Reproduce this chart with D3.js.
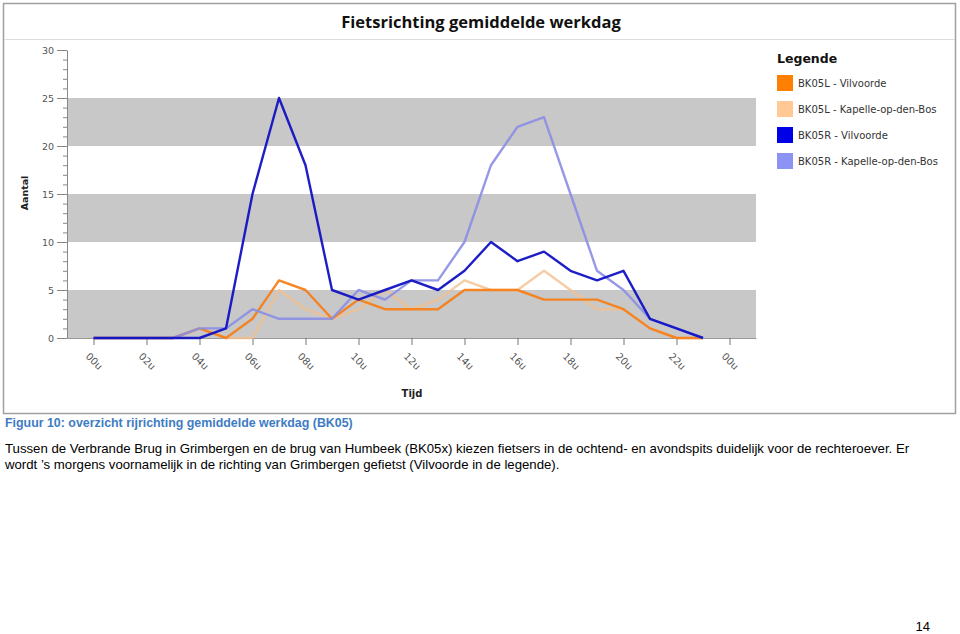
<!DOCTYPE html>
<html>
<head>
<meta charset="utf-8">
<script src="https://cdn.jsdelivr.net/npm/d3@7"></script>
<style>
  html, body { margin: 0; padding: 0; background: #fff; }
  svg { display: block; }
</style>
</head>
<body>
<svg id="chart" width="960" height="634"></svg>
<script>
// ---- data ----
const hours = d3.range(0, 24);
const xTickHours = [0, 2, 4, 6, 8, 10, 12, 14, 16, 18, 20, 22, 24];
const xTickLabels = ["00u", "02u", "04u", "06u", "08u", "10u", "12u", "14u", "16u", "18u", "20u", "22u", "00u"];
const yTicks = [0, 5, 10, 15, 20, 25, 30];
const bands = [[0, 5], [10, 15], [20, 25]];

const seriesNames = ["BK05L - Vilvoorde", "BK05L - Kapelle-op-den-Bos", "BK05R - Vilvoorde", "BK05R - Kapelle-op-den-Bos"];
const bk05lVilvoorde = [0,0,0,0,1,0,2,6,5,2,4,3,3,3,5,5,5,4,4,4,3,1,0,0];
const bk05lKapelle   = [0,0,0,0,1,0,0,5,3,2,3,5,3,4,6,5,5,7,5,3,3,1,0,0];
const bk05rVilvoorde = [0,0,0,0,0,1,15,25,18,5,4,5,6,5,7,10,8,9,7,6,7,2,1,0];
const bk05rKapelle   = [0,0,0,0,1,1,3,2,2,2,5,4,6,6,10,18,22,23,15,7,5,2,1,0];
const seriesValues = [bk05lVilvoorde, bk05lKapelle, bk05rVilvoorde, bk05rKapelle];
const seriesColors = ["#ff8000", "#ffc895", "#0000e6", "#8c93f5"];
const lineColors = ["#f5801a", "#f2c08e", "#1212c4", "#8a8ee4"];
const drawOrder = [1, 0, 3, 2];

const chartTitle = "Fietsrichting gemiddelde werkdag";
const legendTitle = "Legende";
const yTitle = "Aantal";
const xTitle = "Tijd";
const captionText = "Figuur 10: overzicht rijrichting gemiddelde werkdag (BK05)";
const paraLines = [
  "Tussen de Verbrande Brug in Grimbergen en de brug van Humbeek (BK05x) kiezen fietsers in de ochtend- en avondspits duidelijk voor de rechteroever. Er",
  "wordt \u2019s morgens voornamelijk in de richting van Grimbergen gefietst (Vilvoorde in de legende)."
];
const pageNumber = "14";

// ---- drawing ----
const svg = d3.select("#chart");
const axisFont = "DejaVu Sans, Verdana, sans-serif";

// frame
svg.append("rect").attr("x", 3.5).attr("y", 3.5).attr("width", 952).attr("height", 410)
  .attr("fill", "#fff").attr("stroke", "#a0a0a0").attr("stroke-width", 1.5);
svg.append("line").attr("x1", 4).attr("x2", 955).attr("y1", 39.5).attr("y2", 39.5)
  .attr("stroke", "#dcdcdc").attr("stroke-width", 1);

svg.append("text").attr("x", 481).attr("y", 28).attr("text-anchor", "middle")
  .attr("font-family", "Open Sans, sans-serif").attr("font-weight", "bold").attr("font-size", 16.5)
  .attr("fill", "#111").text(chartTitle);

const x = d3.scaleLinear().domain([-1, 25]).range([67, 756]);
const y = d3.scaleLinear().domain([0, 30]).range([338, 50]);

// bands
svg.append("g").selectAll("rect").data(bands).join("rect")
  .attr("x", x(-1)).attr("width", x(25) - x(-1))
  .attr("y", d => y(d[1])).attr("height", d => y(d[0]) - y(d[1]))
  .attr("fill", "#c8c8c8");

// y axis (minor ticks)
const yMinor = svg.append("g").attr("transform", `translate(${x(-1)},0)`)
  .call(d3.axisLeft(y).ticks(30).tickSize(4).tickFormat(""));
yMinor.select(".domain").remove();
yMinor.selectAll("line").attr("stroke", "#888");

const yAxis = svg.append("g").attr("transform", `translate(${x(-1)},0)`)
  .call(d3.axisLeft(y).tickValues(yTicks).tickSize(10).tickSizeOuter(0).tickPadding(3));
yAxis.select(".domain").attr("stroke", "#888");
yAxis.selectAll(".tick line").attr("stroke", "#888");
yAxis.selectAll("text").attr("font-family", axisFont).attr("font-size", 9.5).attr("fill", "#555");

// x axis
const xAxis = svg.append("g").attr("transform", `translate(0,${y(0)})`)
  .call(d3.axisBottom(x).tickValues(xTickHours).tickSize(7).tickSizeOuter(0)
    .tickFormat((d, i) => xTickLabels[i]));
xAxis.select(".domain").attr("stroke", "#999");
xAxis.selectAll(".tick line").attr("stroke", "#777");
xAxis.selectAll("text")
  .attr("font-family", axisFont).attr("font-size", 10).attr("fill", "#555")
  .attr("text-anchor", "start").attr("dy", 0).attr("y", 0)
  .attr("transform", "translate(-9,19) rotate(45)");

// titles
svg.append("text").attr("transform", `translate(28,193) rotate(-90)`).attr("text-anchor", "middle")
  .attr("font-family", axisFont).attr("font-weight", "bold").attr("font-size", 9.5).attr("fill", "#222")
  .text(yTitle);
svg.append("text").attr("x", 412).attr("y", 397).attr("text-anchor", "middle")
  .attr("font-family", axisFont).attr("font-weight", "bold").attr("font-size", 10).attr("fill", "#222")
  .text(xTitle);

// lines
const line = d3.line().x((d, i) => x(hours[i])).y(d => y(d));
svg.append("g").selectAll("path").data(drawOrder).join("path")
  .attr("d", k => line(seriesValues[k]))
  .attr("fill", "none")
  .attr("stroke", k => lineColors[k])
  .attr("stroke-opacity", k => (k === 1 ? 0.8 : k === 3 ? 0.9 : 0.95))
  .attr("stroke-width", 2.4)
  .attr("stroke-linejoin", "round");

// legend
const lg = svg.append("g").attr("transform", "translate(777,0)");
lg.append("text").attr("x", 0).attr("y", 63)
  .attr("font-family", axisFont).attr("font-weight", "bold").attr("font-size", 12.5).attr("fill", "#111")
  .text(legendTitle);
const items = lg.selectAll("g.item").data(seriesNames).join("g").attr("class", "item")
  .attr("transform", (d, i) => `translate(0,${75 + i * 26})`);
items.append("rect").attr("width", 16).attr("height", 16).attr("fill", (d, i) => seriesColors[i]);
items.append("text").attr("x", 21).attr("y", 12)
  .attr("font-family", axisFont).attr("font-size", 10).attr("fill", "#333")
  .text(d => d);

// caption & paragraph
svg.append("text").attr("x", 5).attr("y", 427)
  .attr("font-family", "Liberation Sans, Arial, sans-serif").attr("font-weight", "bold").attr("font-size", 12.4)
  .attr("fill", "#3d7cc4").text(captionText);
svg.selectAll("text.para").data(paraLines).join("text").attr("class", "para")
  .attr("x", 5).attr("y", (d, i) => 453 + i * 16)
  .attr("font-family", "Liberation Sans, Arial, sans-serif").attr("font-size", 13.2).attr("fill", "#000")
  .text(d => d);
svg.append("text").attr("x", 930).attr("y", 631).attr("text-anchor", "end")
  .attr("font-family", "Liberation Sans, Arial, sans-serif").attr("font-size", 13).attr("fill", "#000")
  .text(pageNumber);
</script>
</body>
</html>
